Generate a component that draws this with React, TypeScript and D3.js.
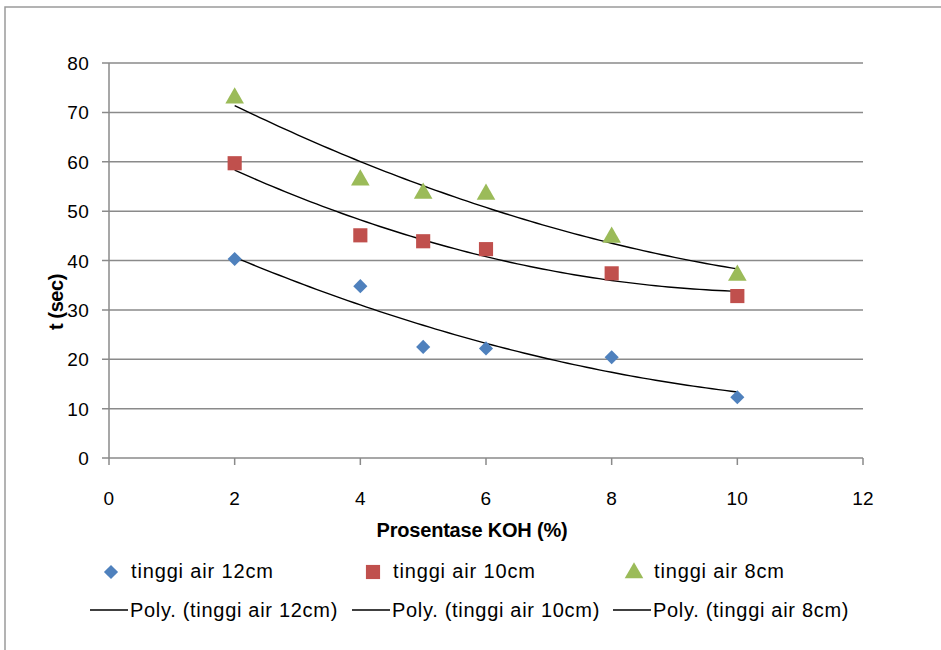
import * as d3 from "d3";

const koh = [2, 4, 5, 6, 8, 10];
const air12 = [40.3, 34.8, 22.5, 22.2, 20.4, 12.3];
const air10 = [59.7, 45.1, 43.9, 42.3, 37.4, 32.8];
const air8 = [73.1, 56.5, 53.8, 53.6, 44.9, 37.2];
const seriesNames = ["tinggi air 12cm", "tinggi air 10cm", "tinggi air 8cm"];
const colors = ["#4F81BD", "#C0504D", "#9BBB59"];
const xTicks = [0, 2, 4, 6, 8, 10, 12];
const yTicks = [0, 10, 20, 30, 40, 50, 60, 70, 80];

// least squares, order 2 (Excel "Poly." trendline)
function polyFit(xs: number[], ys: number[]) {
  const s = (f: (x: number, y: number) => number) => d3.sum(xs, (x, i) => f(x, ys[i]));
  const n = xs.length;
  const sx = s((x) => x), sx2 = s((x) => x * x), sx3 = s((x) => x ** 3), sx4 = s((x) => x ** 4);
  const sy = s((_, y) => y), sxy = s((x, y) => x * y), sx2y = s((x, y) => x * x * y);
  const M = [
    [n, sx, sx2, sy],
    [sx, sx2, sx3, sxy],
    [sx2, sx3, sx4, sx2y],
  ];
  for (let i = 0; i < 3; i++) {
    for (let k = i + 1; k < 3; k++) {
      const f = M[k][i] / M[i][i];
      for (let j = i; j < 4; j++) M[k][j] -= f * M[i][j];
    }
  }
  const c = [0, 0, 0];
  for (let i = 2; i >= 0; i--) {
    let v = M[i][3];
    for (let j = i + 1; j < 3; j++) v -= M[i][j] * c[j];
    c[i] = v / M[i][i];
  }
  return (x: number) => c[0] + c[1] * x + c[2] * x * x;
}

const FONT = "'Liberation Sans', Arial, sans-serif";

export default function App() {
  const x = d3.scaleLinear().domain([0, 12]).range([109, 863]);
  const y = d3.scaleLinear().domain([0, 80]).range([458, 63]);
  const all = [air12, air10, air8];

  const marker = (i: number, cx: number, cy: number, key?: string) => {
    const sym = [d3.symbolSquare, d3.symbolSquare, d3.symbolTriangle][i];
    const size = [100, 200, 150][i];
    const path = d3.symbol(sym, size)();
    const rot = i === 0 ? 45 : 0;
    return (
      <path key={key} d={path!} fill={colors[i]}
        transform={`translate(${cx},${cy + (i === 2 ? 1 : 0)}) rotate(${rot})`} />
    );
  };

  const trendX = d3.range(2, 10.001, 0.1);
  const line = d3.line<number[]>().x((d) => x(d[0])).y((d) => y(d[1]));

  const legendCols = [90, 352, 613];

  return (
    <svg width={941} height={650} style={{ position: "absolute", left: 0, top: 0, background: "#fff" }}
      fontFamily={FONT}>
      <rect x={5} y={7} width={960} height={700} fill="#fff" stroke="#9a9a9a" strokeWidth={1.5} />

      {yTicks.map((t) => (
        <g key={"y" + t}>
          <line x1={102} x2={863} y1={y(t)} y2={y(t)} stroke="#8a8a8a" strokeWidth={1.5} />
          <text x={89} y={y(t) + 7} textAnchor="end" fontSize={19} letterSpacing={0.3} fill="#000">{t}</text>
        </g>
      ))}
      <line x1={109} x2={109} y1={y(80)} y2={y(0)} stroke="#8a8a8a" strokeWidth={1.5} />
      {xTicks.map((t) => (
        <g key={"x" + t}>
          <line x1={x(t)} x2={x(t)} y1={458} y2={465} stroke="#8a8a8a" strokeWidth={1.5} />
          <text x={x(t)} y={505} textAnchor="middle" fontSize={19} letterSpacing={0.3} fill="#000">{t}</text>
        </g>
      ))}

      <text x={472} y={537} textAnchor="middle" fontSize={20} fontWeight="bold" letterSpacing={-0.2}>
        Prosentase KOH (%)
      </text>
      <text transform="translate(63,302) rotate(-90)" textAnchor="middle" fontSize={20} fontWeight="bold"
        letterSpacing={-0.4}>
        t (sec)
      </text>

      {all.map((vals, i) => {
        const f = polyFit(koh, vals);
        return (
          <path key={"t" + i} d={line(trendX.map((v) => [v, f(v)]))!} fill="none" stroke="#000" strokeWidth={1.4} />
        );
      })}
      {all.map((vals, i) => vals.map((v, j) => marker(i, x(koh[j]), y(v), `m${i}-${j}`)))}

      {seriesNames.map((name, i) => (
        <g key={"l" + i}>
          {marker(i, legendCols[i] + 21, 572)}
          <text x={legendCols[i] + 41} y={578} fontSize={20} letterSpacing={0.85}>{name}</text>
          <line x1={legendCols[i]} x2={legendCols[i] + 38} y1={610} y2={610} stroke="#000" strokeWidth={1.4} />
          <text x={legendCols[i] + 40} y={617} fontSize={20} letterSpacing={0.7}>{`Poly. (${name})`}</text>
        </g>
      ))}
    </svg>
  );
}
